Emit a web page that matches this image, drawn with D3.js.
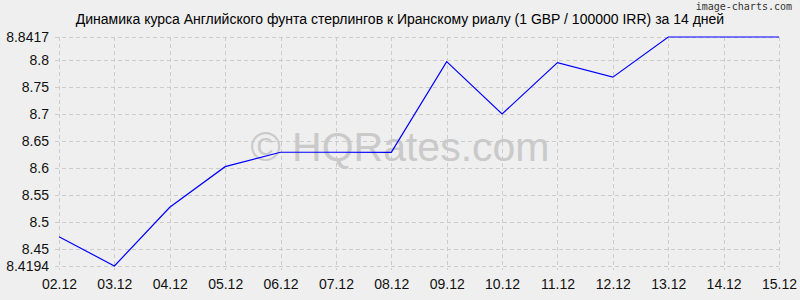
<!DOCTYPE html>
<html>
<head>
<meta charset="utf-8">
<script src="https://cdn.jsdelivr.net/npm/d3@7"></script>
<style>
  body { margin: 0; background: #efefef; }
  svg { display: block; font-family: "Liberation Sans", Arial, sans-serif; }
</style>
</head>
<body>
<svg id="chart" width="800" height="300"></svg>
<script>
// data
var dates = ["02.12", "03.12", "04.12", "05.12", "06.12", "07.12", "08.12",
             "09.12", "10.12", "11.12", "12.12", "13.12", "14.12", "15.12"];
var rates = [8.4735, 8.4194, 8.5277, 8.6026, 8.6292, 8.6292, 8.6290,
             8.7963, 8.6998, 8.7945, 8.7676, 8.8417, 8.8417, 8.8417];
var yTicks = [8.4194, 8.45, 8.5, 8.55, 8.6, 8.65, 8.7, 8.75, 8.8, 8.8417];
var yMin = 8.4194, yMax = 8.8417;
var title = "Динамика курса Английского фунта стерлингов к Иранскому риалу (1 GBP / 100000 IRR) за 14 дней";

var svg = d3.select("#chart");
// note: "top" is reserved on window, so use other names
var plotL = 59, plotR = 779, plotT = 37, plotB = 266;

svg.append("rect").attr("width", 800).attr("height", 300).attr("fill", "#efefef");

var x = d3.scalePoint().domain(dates).range([plotL, plotR]);
var y = d3.scaleLinear().domain([yMin, yMax]).range([plotB, plotT]);

// grid
var grid = svg.append("g")
    .attr("stroke", "#cccccc")
    .attr("stroke-dasharray", "4,3")
    .attr("shape-rendering", "crispEdges");
grid.selectAll(".h").data(yTicks).enter().append("line")
    .attr("x1", plotL - 4).attr("x2", plotR)
    .attr("y1", d => Math.round(y(d)) + 0.5).attr("y2", d => Math.round(y(d)) + 0.5);
grid.selectAll(".v").data(dates).enter().append("line")
    .attr("x1", d => Math.round(x(d)) + 0.5).attr("x2", d => Math.round(x(d)) + 0.5)
    .attr("y1", plotT).attr("y2", plotB + 4);

// watermark
svg.append("text")
    .attr("x", 400).attr("y", 161)
    .attr("text-anchor", "middle")
    .attr("font-size", 41)
    .attr("fill", "#cacaca")
    .text("© HQRates.com");

// axes labels
var yAxis = d3.axisLeft(y).tickValues(yTicks).tickSize(0).tickPadding(10)
    .tickFormat(d => String(+d.toFixed(4)));
svg.append("g").attr("transform", "translate(" + plotL + ",0)").call(yAxis)
    .call(g => g.select(".domain").remove())
    .selectAll("text").attr("font-size", 14).attr("fill", "#111")
    .attr("font-family", "Liberation Sans, Arial, sans-serif");

var xAxis = d3.axisBottom(x).tickSize(0).tickPadding(13);
svg.append("g").attr("transform", "translate(0," + plotB + ")").call(xAxis)
    .call(g => g.select(".domain").remove())
    .selectAll("text").attr("font-size", 14).attr("fill", "#111")
    .attr("font-family", "Liberation Sans, Arial, sans-serif");

// line
var line = d3.line().x((d, i) => x(dates[i])).y(d => y(d));
svg.append("path")
    .datum(rates)
    .attr("fill", "none")
    .attr("stroke", "#0000ff")
    .attr("stroke-width", 1.2)
    .attr("d", line);

// title
svg.append("text")
    .attr("x", 400).attr("y", 24)
    .attr("text-anchor", "middle")
    .attr("font-size", 14)
    .attr("fill", "#000")
    .text(title);

svg.append("text")
    .attr("x", 792).attr("y", 10)
    .attr("text-anchor", "end")
    .attr("font-size", 10)
    .attr("font-family", "DejaVu Sans Mono, monospace")
    .attr("fill", "#333")
    .text("image-charts.com");
</script>
</body>
</html>
